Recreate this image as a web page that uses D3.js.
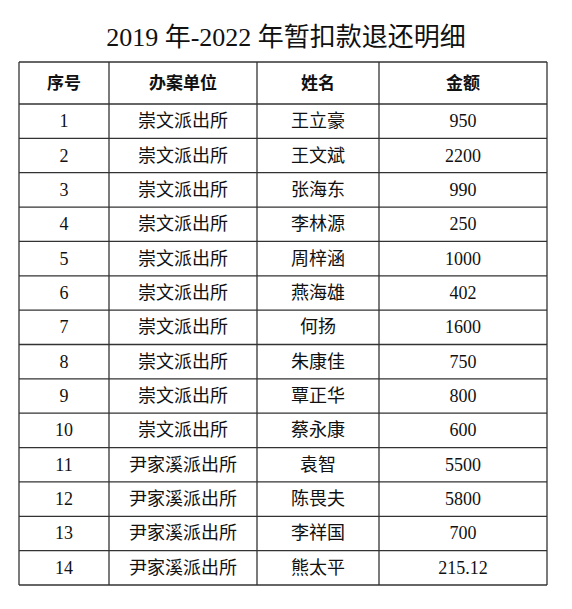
<!doctype html>
<html lang="zh">
<head>
<meta charset="utf-8">
<script src="https://cdnjs.cloudflare.com/ajax/libs/d3/7.8.5/d3.min.js"></script>
<style>
body { margin: 0; background: #fff; }
text { font-family: "Liberation Serif", "Noto Sans CJK SC", serif; fill: #111; }
</style>
</head>
<body>
<div id="view"></div>
<script>
/* data */
var columns = ['序号', '办案单位', '姓名', '金额'];
var units = ['崇文派出所', '崇文派出所', '崇文派出所', '崇文派出所', '崇文派出所',
	'崇文派出所', '崇文派出所', '崇文派出所', '崇文派出所', '崇文派出所',
	'尹家溪派出所', '尹家溪派出所', '尹家溪派出所', '尹家溪派出所'];
var names = ['王立豪', '王文斌', '张海东', '李林源', '周梓涵', '燕海雄', '何扬',
	'朱康佳', '覃正华', '蔡永康', '袁智', '陈畏夫', '李祥国', '熊太平'];
var amounts = ['950', '2200', '990', '250', '1000', '402', '1600', '750', '800',
	'600', '5500', '5800', '700', '215.12'];
var title = '2019 年-2022 年暂扣款退还明细';

/* view */
var size = { width: 572, height: 609 };
var svg = d3.select('#view').append('svg')
	.attr('width', size.width).attr('height', size.height);

var colEdges = [19, 109, 257, 379, 547];
var tableTop = 62, headerBottom = 104, tableBottom = 585;
var rows = units.map(function(u, i){ return [String(i + 1), u, names[i], amounts[i]]; });
var y = d3.scaleLinear().domain([0, rows.length]).range([headerBottom, tableBottom]);

svg.append('text')
	.attr('x', size.width / 2).attr('y', 46)
	.attr('text-anchor', 'middle')
	.style('font-size', '26px')
	.text(title);

function mid(c){ return (colEdges[c] + colEdges[c + 1]) / 2; }

svg.selectAll('text.head').data(columns).enter().append('text')
	.attr('class', 'head')
	.attr('x', function(d, i){ return mid(i); })
	.attr('y', (tableTop + headerBottom) / 2 + 6)
	.attr('text-anchor', 'middle')
	.style('font-size', '17px').style('font-weight', 'bold')
	.text(function(d){ return d; });

var g = svg.selectAll('g.row').data(rows).enter().append('g').attr('class', 'row');
g.selectAll('text').data(function(d, i){ return d.map(function(v){ return { v: v, r: i }; }); })
	.enter().append('text')
	.attr('x', function(d, i){ return mid(i); })
	.attr('y', function(d){ return (y(d.r) + y(d.r + 1)) / 2 + 6; })
	.attr('text-anchor', 'middle')
	.style('font-size', '18px')
	.text(function(d){ return d.v; });

// grid lines
var hLines = [tableTop].concat(d3.range(rows.length + 1).map(function(i){ return y(i); }));
svg.selectAll('line.h').data(hLines).enter().append('line')
	.attr('x1', colEdges[0]).attr('x2', colEdges[4])
	.attr('y1', function(d){ return d; }).attr('y2', function(d){ return d; })
	.style('stroke', '#333').style('stroke-width', 1.3);
svg.selectAll('line.v').data(colEdges).enter().append('line')
	.attr('x1', function(d){ return d; }).attr('x2', function(d){ return d; })
	.attr('y1', tableTop).attr('y2', tableBottom)
	.style('stroke', '#333').style('stroke-width', 1.3);
</script>
</body>
</html>
